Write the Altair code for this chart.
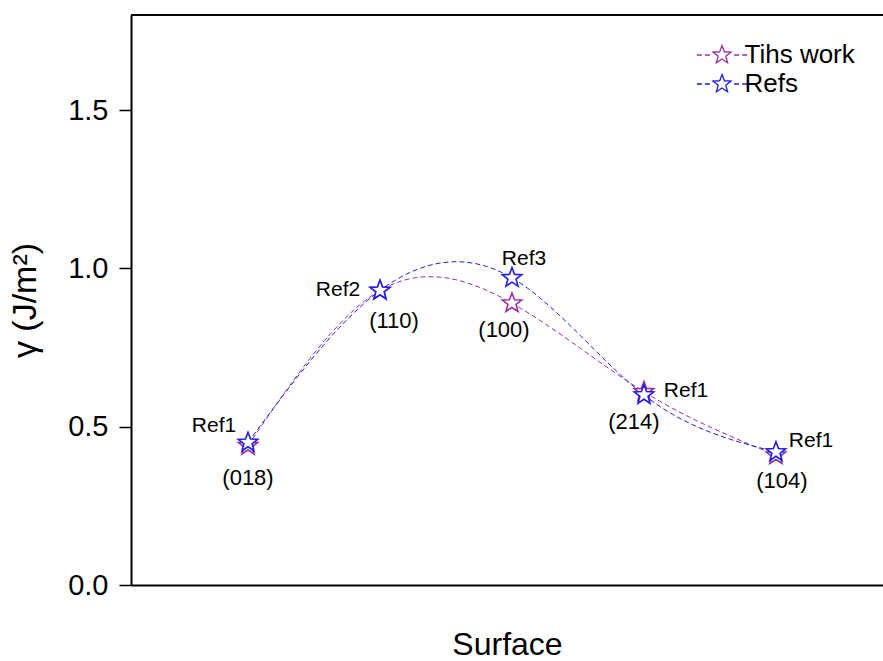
import altair as alt
import pandas as pd

# ---------------- data ----------------
surfaces = ["(018)", "(110)", "(100)", "(214)", "(104)"]
this_work = [0.44, 0.93, 0.89, 0.61, 0.41]
refs = [0.45, 0.93, 0.97, 0.60, 0.42]
ref_labels = ["Ref1", "Ref2", "Ref3", "Ref1", "Ref1"]
series_names = ["Tihs work", "Refs"]

# ---------------- layout / style ----------------
W, H = 752, 570
FONT = "Liberation Sans"
COLORS = ["#9a2f9e", "#1f1fe6"]
STAR = ("M0,-1L0.247,-0.34L0.951,-0.309L0.399,0.13L0.588,0.809L0,0.42"
        "L-0.588,0.809L-0.399,0.13L-0.951,-0.309L-0.247,-0.34Z")
LEGEND_SYM = (STAR +
              "M-2.65,0H-2.12M-1.8,0H-1.27M1.27,0H1.8M2.12,0H2.65")
# pixel offsets of annotations relative to the Refs points
surface_offsets = [(0, 35), (14, 30), (-8, 52), (-10, 27), (6, 29)]
ref_offsets = [(-34, -17), (-42, -1), (12, -19), (42, -4), (35, -11)]

pos = list(range(1, len(surfaces) + 1))
rows = []
for s, vals in zip(series_names, [this_work, refs]):
    for p, surf, v in zip(pos, surfaces, vals):
        rows.append({"series": s, "pos": p, "surface": surf, "gamma": v})
df = pd.DataFrame(rows)
ann = pd.DataFrame({"pos": pos, "surface": surfaces, "gamma": refs, "ref": ref_labels})

x = alt.X("pos:Q",
          scale=alt.Scale(domain=[0.1136, 5.811], nice=False, zero=False),
          axis=alt.Axis(title="Surface", ticks=False, labels=False, grid=False,
                        domainColor="black", domainWidth=2,
                        titleFontSize=32, titleFontWeight="normal",
                        titlePadding=44, titleFont=FONT, titleColor="black"))
y = alt.Y("gamma:Q",
          scale=alt.Scale(domain=[0, 1.8], nice=False),
          axis=alt.Axis(title="γ (J/m²)", values=[0, 0.5, 1.0, 1.5], format=".1f",
                        grid=False, domainColor="black", domainWidth=2,
                        tickColor="black", tickWidth=1.5, tickSize=12,
                        labelFontSize=29, labelFont=FONT, labelColor="black",
                        labelPadding=11,
                        titleFontSize=34, titleFontWeight="normal", titleFont=FONT,
                        titleColor="black", titlePadding=25))
cscale = alt.Scale(domain=series_names, range=COLORS)

legend = alt.Legend(title=None, orient="none",
                    legendX=578, legendY=27,
                    symbolType=LEGEND_SYM, symbolSize=361,
                    symbolStrokeWidth=1.3,
                    symbolFillColor="white",
                    labelFontSize=26, labelFont=FONT,
                    labelColor="black", labelOffset=9.5,
                    rowPadding=3, padding=0)

border = alt.Chart(pd.DataFrame({"a": [0]})).mark_rule(
    color="black", strokeWidth=2).encode(
    x=alt.value(0), x2=alt.value(W), y=alt.value(0))

lines = alt.Chart(df).mark_line(
    interpolate="natural", strokeDash=[5, 3], strokeWidth=1).encode(
    x=x, y=y, stroke=alt.Stroke("series:N", scale=cscale, legend=legend))

points = alt.Chart(df).mark_point(
    shape=STAR, size=420, filled=False, fill="white", fillOpacity=1,
    strokeWidth=1.6, opacity=1).encode(
    x=x, y=y,
    stroke=alt.Stroke("series:N", scale=cscale, legend=legend))

texts = []
for i, p in enumerate(pos):
    dx, dy = surface_offsets[i]
    texts.append(alt.Chart(ann).transform_filter(alt.datum.pos == p).mark_text(
        dx=dx, dy=dy, fontSize=22, font=FONT, color="black",
        baseline="middle", align="center").encode(x=x, y=y, text="surface:N"))
    dx, dy = ref_offsets[i]
    texts.append(alt.Chart(ann).transform_filter(alt.datum.pos == p).mark_text(
        dx=dx, dy=dy, fontSize=21, font=FONT, color="black",
        baseline="middle", align="center").encode(x=x, y=y, text="ref:N"))

chart = alt.layer(border, lines, points, *texts).properties(
    width=W, height=H,
    autosize=alt.AutoSizeParams(type="none"),
    padding={"left": 131, "top": 15, "right": 0, "bottom": 76},
    background="white",
).configure_view(stroke=None)

chart.save("out.html", embed_options={"renderer": "svg", "actions": False})
